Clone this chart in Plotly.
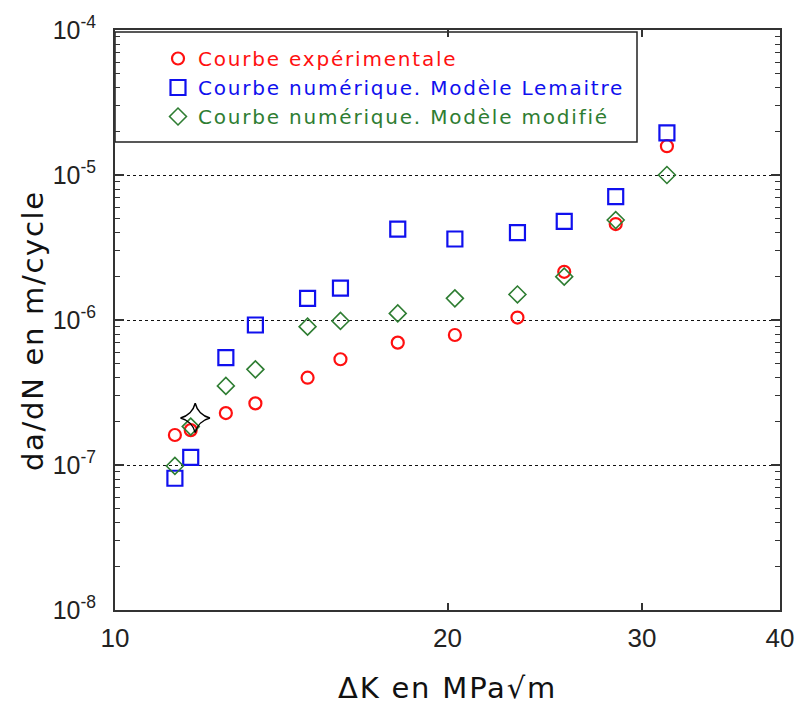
import plotly.graph_objects as go

# Stress intensity factor range (MPa·√m)
dk = [11.33, 11.71, 12.60, 13.40, 14.94, 16.0, 18.03, 20.31, 23.14, 25.51, 28.40, 31.6]

# Crack growth rates da/dN (m/cycle)
exp_rate = [1.61e-7, 1.74e-7, 2.28e-7, 2.66e-7, 4.0e-7, 5.36e-7, 6.98e-7, 7.88e-7,
            1.04e-6, 2.15e-6, 4.59e-6, 1.58e-5]
lemaitre_rate = [8.1e-8, 1.13e-7, 5.5e-7, 9.24e-7, 1.41e-6, 1.66e-6, 4.24e-6, 3.62e-6,
                 4.0e-6, 4.79e-6, 7.09e-6, 1.95e-5]
modified_rate = [9.85e-8, 1.84e-7, 3.51e-7, 4.57e-7, 9.0e-7, 9.85e-7, 1.11e-6, 1.41e-6,
                 1.50e-6, 1.99e-6, 4.89e-6, 1.0e-5]

# Single highlighted point
star_dk = [11.82]
star_rate = [2.11e-7]

series_names = ["Courbe expérimentale",
                "Courbe numérique. Modèle Lemaitre",
                "Courbe numérique. Modèle modifié"]

y_tickvals = [1e-8, 1e-7, 1e-6, 1e-5, 1e-4]
y_ticktext = ["10<sup>-8</sup>", "10<sup>-7</sup>", "10<sup>-6</sup>",
              "10<sup>-5</sup>", "10<sup>-4</sup>"]
x_tickvals = [10, 20, 30, 40]
x_ticktext = ["10", "20", "30", "40"]

RED = "#ff1010"
BLUE = "#1010ee"
GREEN = "#2e7d32"

TITLE_FAMILY = "DejaVu Sans, Verdana, sans-serif"
TICK_FAMILY = "Liberation Sans, Arial, sans-serif"


def spaced(text, color, spacing):
    return f"<span style='color:{color};letter-spacing:{spacing}px'>{text}</span>"


fig = go.Figure()

fig.add_trace(go.Scatter(
    x=dk, y=exp_rate, mode="markers",
    name=spaced(series_names[0], RED, 1.8),
    marker=dict(symbol="circle-open", size=12, color=RED, line=dict(width=2.2, color=RED)),
))
fig.add_trace(go.Scatter(
    x=dk, y=lemaitre_rate, mode="markers",
    name=spaced(series_names[1], BLUE, 1.8),
    marker=dict(symbol="square-open", size=15, color=BLUE, line=dict(width=2.2, color=BLUE)),
))
fig.add_trace(go.Scatter(
    x=dk, y=modified_rate, mode="markers",
    name=spaced(series_names[2], GREEN, 1.8),
    marker=dict(symbol="diamond-open", size=13, color=GREEN, line=dict(width=1.6, color=GREEN)),
))
fig.add_trace(go.Scatter(
    x=star_dk, y=star_rate, mode="markers", showlegend=False,
    marker=dict(symbol="star-diamond-open", size=21, color="black", line=dict(width=1.5, color="black")),
))

# Minor log ticks (2..9 within each decade)
y_minor = [m * 10.0 ** e for e in range(-8, -4) for m in range(2, 10)]

AXIS_COLOR = "#333333"

fig.update_xaxes(
    type="log", range=[1, 1.60206], automargin=False,
    tickvals=x_tickvals, ticktext=x_ticktext,
    ticks="inside", ticklen=7, tickwidth=1.5, tickcolor=AXIS_COLOR,
    showline=True, linecolor=AXIS_COLOR, linewidth=2, mirror="ticks",
    showgrid=False, zeroline=False,
    tickfont=dict(family=TICK_FAMILY, size=26, color="#222222"), ticklabelstandoff=4,
)
fig.update_yaxes(
    type="log", range=[-8, -4], automargin=False,
    tickvals=y_tickvals, ticktext=y_ticktext,
    ticks="inside", ticklen=9, tickwidth=1.5, tickcolor=AXIS_COLOR,
    minor=dict(tickvals=y_minor, ticks="inside", ticklen=5, tickwidth=1.2,
               tickcolor=AXIS_COLOR, showgrid=False),
    showline=True, linecolor=AXIS_COLOR, linewidth=2, mirror="ticks",
    showgrid=True, gridcolor="#111111", griddash="dot", gridwidth=1.3,
    zeroline=False,
    tickfont=dict(family=TICK_FAMILY, size=25, color="#222222"), ticklabelstandoff=12,
)

# Axis titles placed as annotations
fig.add_annotation(text=spaced("ΔK en MPa√m", "#111111", 1.8), xref="paper", yref="paper",
                   x=0.5, y=-(688 - 610) / 580, xanchor="center", yanchor="middle",
                   showarrow=False,
                   font=dict(family=TITLE_FAMILY, size=29, color="#111111"))
fig.add_annotation(text=spaced("da/dN en m/cycle", "#111111", 1.7), xref="paper", yref="paper",
                   x=-(115 - 33) / 665, y=1 - (331 - 30) / 580, xanchor="center", yanchor="middle",
                   textangle=-90, showarrow=False,
                   font=dict(family=TITLE_FAMILY, size=29, color="#111111"))

# Framed legend box
fig.add_shape(type="rect", xref="paper", yref="paper",
              x0=0, x1=(637 - 115) / 665, y0=1 - (142 - 30) / 580, y1=1 - (32 - 30) / 580,
              line=dict(color="#222222", width=1.5), fillcolor="white", layer="below")

fig.update_layout(
    width=795, height=704,
    margin=dict(l=115, r=15, t=30, b=94),
    paper_bgcolor="white", plot_bgcolor="white",
    showlegend=True,
    legend=dict(
        x=(158 - 115) / 665, y=1 - (39 - 30) / 580, xanchor="left", yanchor="top",
        bgcolor="rgba(0,0,0,0)", borderwidth=0,
        font=dict(family=TITLE_FAMILY, size=20, color="black"),
        itemsizing="trace",
    ),
)

fig.write_html("out.html")
